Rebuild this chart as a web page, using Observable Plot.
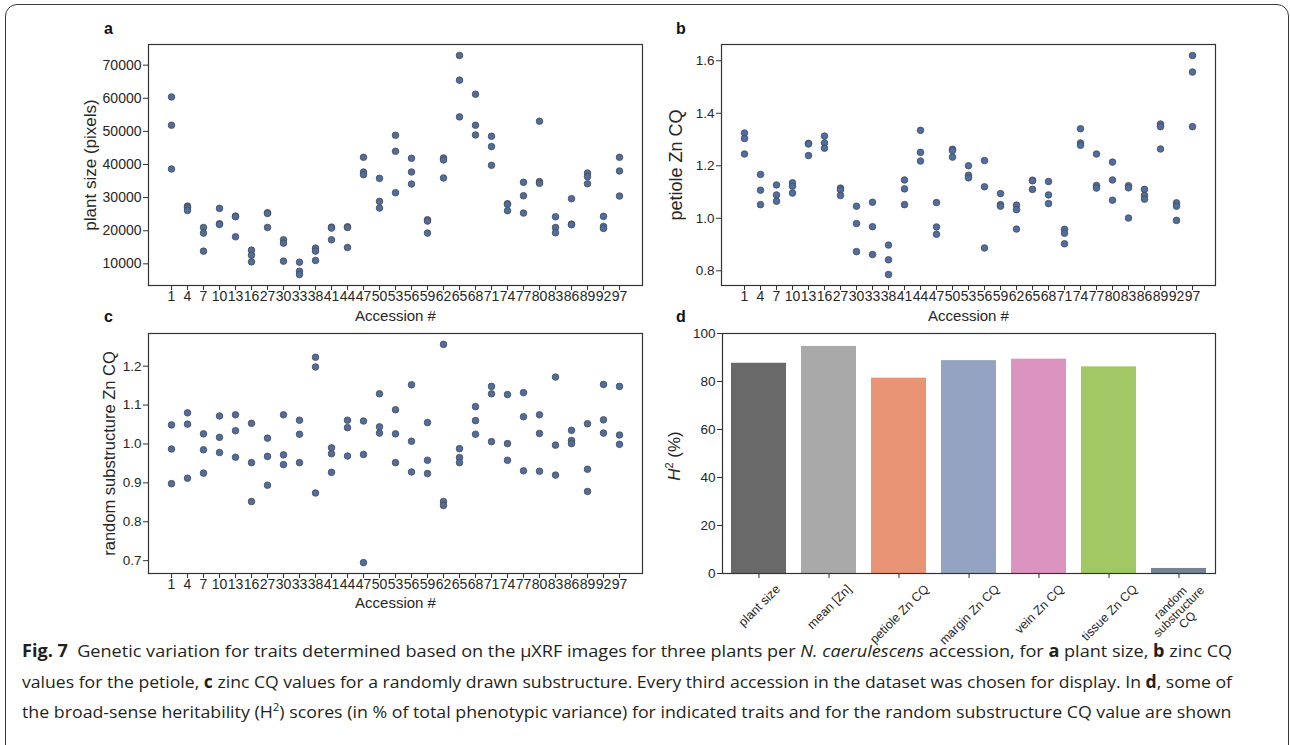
<!DOCTYPE html>
<html><head><meta charset="utf-8">
<script src="https://cdn.jsdelivr.net/npm/d3@7"></script>
<script src="https://cdn.jsdelivr.net/npm/@observablehq/plot@0.6"></script>
<style>
body{margin:0;background:#fff;}
#page{position:relative;width:1290px;height:745px;overflow:hidden;font-family:"Liberation Sans",Arial,sans-serif;color:#262626;}
.panel{position:absolute;}
.letter{position:absolute;font-weight:bold;font-size:16px;line-height:16px;color:#111;}
#frame{position:absolute;left:5px;top:4px;width:1284px;height:800px;border:1.2px solid #3a3a3a;border-radius:12px;box-sizing:border-box;}
.cap{position:absolute;left:22px;white-space:nowrap;transform-origin:0 0;font-family:"Open Sans","Liberation Sans",sans-serif;font-size:17px;line-height:24px;color:#231f20;}
#dlab{position:absolute;left:675px;top:456px;transform:translate(-50%,-50%) rotate(-90deg);font-size:17px;white-space:nowrap;color:#262626;}
#dlab sup{font-size:11px;vertical-align:7px;line-height:0;}
.cap sup{font-size:11px;vertical-align:7px;line-height:0;}
</style>
</head>
<body>
<div id="page">
  <div id="frame"></div>
  <div class="panel" id="pa" style="left:60px;top:30px"></div>
  <div class="panel" id="pb" style="left:630px;top:30px"></div>
  <div class="panel" id="pc" style="left:60px;top:320px"></div>
  <div class="panel" id="pd" style="left:630px;top:320px"></div>
  <div class="letter" style="left:104px;top:21px">a</div>
  <div class="letter" style="left:676px;top:21px">b</div>
  <div class="letter" style="left:104px;top:309px">c</div>
  <div class="letter" style="left:676px;top:309px">d</div>
  <div id="dlab"><i>H</i><sup>2</sup> (%)</div>
  <div class="cap" style="top:639px"><b>Fig. 7</b>&nbsp; Genetic variation for traits determined based on the µXRF images for three plants per <i>N. caerulescens</i> accession, for <b>a</b> plant size, <b>b</b> zinc CQ</div>
  <div class="cap" style="top:670px">values for the petiole, <b>c</b> zinc CQ values for a randomly drawn substructure. Every third accession in the dataset was chosen for display. In <b>d</b>, some of</div>
  <div class="cap" style="top:700px">the broad-sense heritability (H<sup>2</sup>) scores (in % of total phenotypic variance) for indicated traits and for the random substructure CQ value are shown</div>
</div>
<script>
// ---------- data ----------
const accessions = [1,4,7,10,13,16,27,30,33,38,41,44,47,50,53,56,59,62,65,68,71,74,77,80,83,86,89,92,97];

const plantSize = [
  [60400,51850,38640],[27450,26950,26130],[20990,19280,13830],[26740,22100,21900],
  [24420,24220,18170],[14130,12620,10600],[25430,25230,20990],[17260,16250,10810],
  [10500,7780,6770],[14740,13830,11010],[21090,20790,17260],[21190,20990,14940],
  [42170,37730,36930],[35810,28860,26840],[48820,43980,31480],[41870,37730,34100],
  [23310,22910,19280],[41970,41360,35920],[72920,65460,54370],[61230,51850,48920],
  [48520,45400,39750],[28150,27950,26030],[34610,30570,25330],[53060,34810,34300],
  [24220,20990,19380],[29660,22000,21800],[37430,36320,34200],[24320,21290,20690],
  [42170,38030,30470]
];

const petioleCQ = [
  [1.325,1.304,1.245],[1.167,1.107,1.052],[1.127,1.089,1.065],[1.135,1.122,1.096],
  [1.285,1.283,1.239],[1.313,1.287,1.267],[1.115,1.108,1.087],[1.046,0.980,0.873],
  [1.061,0.968,0.862],[0.898,0.842,0.786],[1.146,1.112,1.052],[1.335,1.251,1.218],
  [1.060,0.967,0.939],[1.263,1.258,1.233],[1.200,1.164,1.154],[1.220,1.120,0.887],
  [1.094,1.052,1.046],[1.050,1.033,0.959],[1.145,1.143,1.110],[1.140,1.089,1.056],
  [0.958,0.943,0.903],[1.341,1.287,1.278],[1.245,1.125,1.115],[1.214,1.146,1.069],
  [1.124,1.116,1.001],[1.110,1.087,1.073],[1.359,1.349,1.264],[1.059,1.046,0.992],
  [1.620,1.557,1.349]
];

const randomCQ = [
  [1.049,0.987,0.898],[1.080,1.051,0.912],[1.026,0.985,0.925],[1.072,1.017,0.978],
  [1.075,1.034,0.966],[1.053,0.952,0.852],[1.015,0.968,0.894],[1.075,0.972,0.947],
  [1.061,1.025,0.952],[1.223,1.198,0.874],[0.990,0.975,0.927],[1.061,1.042,0.969],
  [1.059,0.973,0.695],[1.129,1.044,1.028],[1.088,1.026,0.952],[1.152,1.007,0.928],
  [1.055,0.958,0.924],[1.256,0.852,0.842],[0.988,0.965,0.952],[1.096,1.060,1.025],
  [1.148,1.129,1.006],[1.127,1.001,0.958],[1.132,1.070,0.931],[1.075,1.027,0.930],
  [1.172,0.997,0.920],[1.035,1.009,1.001],[1.052,0.935,0.878],[1.153,1.062,1.028],
  [1.148,1.023,0.999]
];

const traits = ["plant size","mean [Zn]","petiole Zn CQ","margin Zn CQ","vein Zn CQ","tissue Zn CQ","random\nsubstructure\nCQ"];
const heritability = [87.6, 94.6, 81.4, 88.7, 89.3, 86.1, 2.1];
const barColors = ["#696969","#a9a9a9","#e99475","#95a3c3","#db94c0","#a1c864","#758392"];

const ticksA = [10000,20000,30000,40000,50000,60000,70000];
const ticksB = [0.8,1.0,1.2,1.4,1.6];
const ticksC = [0.7,0.8,0.9,1.0,1.1,1.2];
const ticksD = [0,20,40,60,80,100];

// ---------- drawing ----------
const FONT = "Liberation Sans, Arial, sans-serif";
const INK = "#262626";

function strip(vals, o) {
  const rows = accessions.flatMap((a, i) => vals[i].map(v => ({acc: a, v})));
  return Plot.plot({
    width: 600, height: o.height,
    marginLeft: o.ml, marginRight: o.mr, marginTop: o.mt, marginBottom: o.mb,
    style: {fontFamily: FONT, fontSize: "14px", color: INK, background: "transparent", overflow: "visible"},
    x: {type: "point", domain: accessions, padding: 0.55},
    y: {domain: o.domain},
    marks: [
      Plot.axisX({tickSize: 5, tickPadding: 1, label: null, stroke: "#333", fontSize: 14, fill: INK}),
      Plot.axisY({ticks: o.ticks, tickSize: 5, tickPadding: 2, tickFormat: o.fmt, label: null, stroke: "#333", fontSize: o.tfs, fill: INK}),
      Plot.frame({stroke: "#333", strokeWidth: 1.2}),
      Plot.dot(rows, {x: "acc", y: "v", r: 3.3, fill: "#4c6ea5", stroke: "#4a4a4a", strokeWidth: 0.8}),
      Plot.text([o.label], {text: d => d, frameAnchor: "left", rotate: -90, dx: -o.ylo, lineAnchor: "top", textAnchor: "middle", fontSize: o.lfs, fill: INK}),
      Plot.text(["Accession #"], {text: d => d, frameAnchor: "bottom", dy: o.xlo, lineAnchor: "top", textAnchor: "middle", fontSize: 15, fill: INK})
    ]
  });
}

document.getElementById("pa").append(strip(plantSize, {
  height: 310, ml: 88, mr: 18, mt: 14, mb: 55,
  domain: [3460, 76230], ticks: ticksA, fmt: "d", tfs: 14,
  label: "plant size (pixels)", ylo: 64.5, lfs: 17, xlo: 25
}));
document.getElementById("pb").append(strip(petioleCQ, {
  height: 310, ml: 91, mr: 15, mt: 14, mb: 55,
  domain: [0.744, 1.662], ticks: ticksB, fmt: ".1f", tfs: 13.5,
  label: "petiole Zn CQ", ylo: 52, lfs: 18, xlo: 25
}));
document.getElementById("pc").append(strip(randomCQ, {
  height: 300, ml: 88, mr: 18, mt: 13, mb: 47,
  domain: [0.667, 1.284], ticks: ticksC, fmt: ".1f", tfs: 13.5,
  label: "random substructure Zn CQ", ylo: 45.5, lfs: 16.5, xlo: 24
}));

// panel d
const ctx = document.createElement("canvas").getContext("2d");
const barRows = traits.map((t, i) => ({trait: t, h: heritability[i], color: barColors[i]}));
const labelMarks = traits.map(t => {
  const lines = t.split("\n");
  const fs = lines.length > 1 ? 12 : 12.5;
  const lh = lines.length > 1 ? 1.0 : 1.15;
  ctx.font = `${fs}px "Liberation Sans"`;
  const w = Math.max(...lines.map(l => ctx.measureText(l).width));
  const h = lines.length * lh * fs;
  const half = (w + h) / (2 * Math.SQRT2);
  const pad = lines.length > 1 ? 2 : 8;
  return Plot.text([t], {x: d => d, text: d => d, frameAnchor: "bottom", dy: pad + half, rotate: -45,
    textAnchor: "middle", lineAnchor: "middle", lineHeight: lh, fontSize: fs, fill: INK});
});
document.getElementById("pd").append(Plot.plot({
  width: 600, height: 330,
  marginLeft: 92, marginRight: 15, marginTop: 13, marginBottom: 77,
  style: {fontFamily: FONT, fontSize: "13.5px", color: INK, background: "transparent", overflow: "visible"},
  x: {type: "band", domain: traits, paddingInner: 0.22, paddingOuter: 0.11},
  y: {domain: [0, 100]},
  color: {type: "identity"},
  marks: [
    Plot.barY(barRows, {x: "trait", y: "h", fill: "color"}),
    Plot.axisX({tickSize: 5, tickFormat: () => "", label: null, stroke: "#333"}),
    Plot.axisY({ticks: ticksD, tickSize: 5, tickPadding: 2, label: null, stroke: "#333", fontSize: 13.5, fill: INK}),
    Plot.frame({stroke: "#333", strokeWidth: 1.2}),
    ...labelMarks
  ]
}));

// compress each caption line horizontally to the column width
document.querySelectorAll(".cap").forEach(el => {
  const w = el.scrollWidth;
  el.style.transform = `scaleX(${1210 / w})`;
});
</script>
</body></html>
